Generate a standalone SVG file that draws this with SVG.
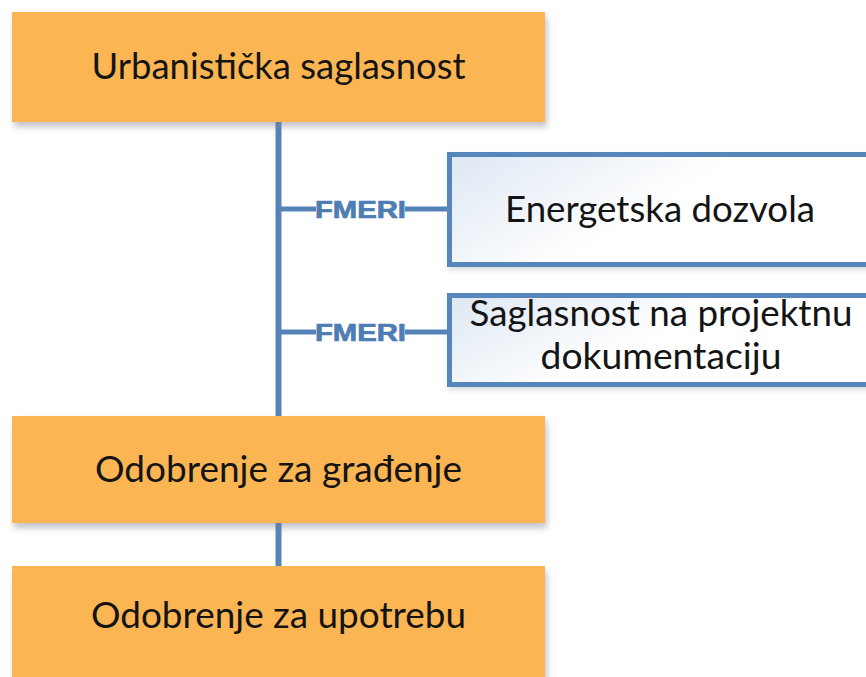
<svg xmlns="http://www.w3.org/2000/svg" width="866" height="677" viewBox="0 0 866 677">
  <defs>
    <filter id="shadow" x="-5%" y="-10%" width="115%" height="130%">
      <feDropShadow dx="2" dy="5" stdDeviation="3" flood-color="#7a7a8a" flood-opacity="0.45"/>
    </filter>
    <filter id="shadowBlue" x="-5%" y="-10%" width="115%" height="130%">
      <feDropShadow dx="1" dy="3" stdDeviation="2.5" flood-color="#8a8a9a" flood-opacity="0.3"/>
    </filter>
    <linearGradient id="blueFill" x1="0" y1="0" x2="1" y2="0.4">
      <stop offset="0" stop-color="#dde7f3"/>
      <stop offset="0.55" stop-color="#ffffff"/>
      <stop offset="1" stop-color="#ffffff"/>
    </linearGradient>
  </defs>
  <style>
    .orange { fill: #FBB653; filter: url(#shadow); }
    .blue { fill: url(#blueFill); stroke: #5786BA; stroke-width: 5; filter: url(#shadowBlue); }
    .lbl { font-family: Lato, "Open Sans", "Liberation Sans", sans-serif; font-size: 37px; fill: #141414; text-anchor: middle; }
    .conn { stroke: #5583B7; stroke-width: 6; fill: none; }
    .branch { stroke: #5583B7; stroke-width: 5; fill: none; }
    .fmeri { font-family: "Liberation Sans", Arial, sans-serif; font-weight: bold; font-size: 23px; fill: #4D7DB3; stroke: #4D7DB3; stroke-width: 0.7; }
  </style>
  <rect width="866" height="677" fill="#ffffff"/>

  <g id="connectors">
    <line class="conn" x1="278.5" y1="120" x2="278.5" y2="418"/>
    <line class="conn" x1="278.5" y1="520" x2="278.5" y2="568"/>
    <line class="branch" x1="278.5" y1="209" x2="316" y2="209"/>
    <line class="branch" x1="405" y1="209" x2="449" y2="209"/>
    <text class="fmeri" x="315" y="217.5" textLength="91" lengthAdjust="spacingAndGlyphs">FMERI</text>
    <line class="branch" x1="278.5" y1="332" x2="316" y2="332"/>
    <line class="branch" x1="405" y1="332" x2="449" y2="332"/>
    <text class="fmeri" x="315" y="340.5" textLength="91" lengthAdjust="spacingAndGlyphs">FMERI</text>
  </g>

  <g id="urbanisticka">
    <rect class="orange" x="12" y="12" width="533" height="110"/>
    <text class="lbl" x="278.5" y="79" textLength="374" lengthAdjust="spacingAndGlyphs">Urbanistička saglasnost</text>
  </g>

  <g id="energetska">
    <rect class="blue" x="449.5" y="154.5" width="460" height="110"/>
    <text class="lbl" x="660" y="222" textLength="310" lengthAdjust="spacingAndGlyphs">Energetska dozvola</text>
  </g>

  <g id="saglasnost">
    <rect class="blue" x="449.5" y="295.5" width="460" height="89"/>
    <text class="lbl" x="661" y="326" textLength="383" lengthAdjust="spacingAndGlyphs">Saglasnost na projektnu</text>
    <text class="lbl" x="661" y="369" textLength="241" lengthAdjust="spacingAndGlyphs">dokumentaciju</text>
  </g>

  <g id="gradjenje">
    <rect class="orange" x="12" y="416" width="533" height="107"/>
    <text class="lbl" x="278.5" y="482" textLength="367" lengthAdjust="spacingAndGlyphs">Odobrenje za građenje</text>
  </g>

  <g id="upotreba">
    <rect class="orange" x="12" y="566" width="533" height="120"/>
    <text class="lbl" x="278.5" y="628" textLength="375" lengthAdjust="spacingAndGlyphs">Odobrenje za upotrebu</text>
  </g>
</svg>
